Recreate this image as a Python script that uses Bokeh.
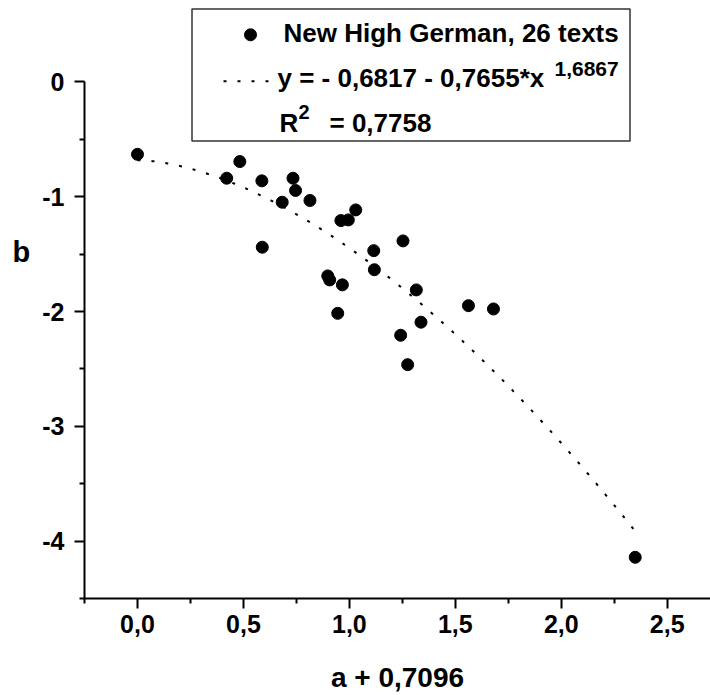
import numpy as np
from bokeh.plotting import figure
from bokeh.models import Range1d, FixedTicker, CustomJSTickFormatter, Label, BoxAnnotation
from bokeh.embed import file_html
from bokeh.resources import INLINE

# ---------------- data ----------------
series_name = "New High German, 26 texts"
x_vals = [0.000, 0.421, 0.483, 0.587, 0.734, 0.746, 0.683, 0.814, 0.589, 0.960, 0.995, 1.030,
          0.898, 0.907, 0.967, 0.945, 1.253, 1.115, 1.118, 1.316, 1.562, 1.680, 1.338, 1.242,
          1.275, 2.349]
y_vals = [-0.631, -0.839, -0.694, -0.862, -0.839, -0.946, -1.048, -1.033, -1.440, -1.208, -1.202, -1.115,
          -1.690, -1.725, -1.768, -2.016, -1.385, -1.470, -1.636, -1.812, -1.949, -1.978, -2.093, -2.207,
          -2.463, -4.141]
# fitted model shown in the legend: y = a + b * x^p
fit_a = -0.6817
fit_b = -0.7655
fit_p = 1.6867
r_squared = "0,7758"

x_ticks = [0.0, 0.5, 1.0, 1.5, 2.0, 2.5]
x_minor = [-0.25, 0.25, 0.75, 1.25, 1.75, 2.25, 2.75]
y_ticks = [0, -1, -2, -3, -4]
y_minor = [-0.5, -1.5, -2.5, -3.5, -4.5]
x_label = "a + 0,7096"
y_label = "b"

# ---------------- layout ----------------
W, H = 710, 695
LEFT, BOTTOM_BORDER = 84, 97
FRAME_W = W - LEFT
FRAME_H = H - BOTTOM_BORDER
X0 = -0.25
PPX = 211.9
Y0 = -4.5
PPY = 114.8
x_end = X0 + FRAME_W / PPX
y_end = Y0 + FRAME_H / PPY


def sx2x(px):
    return X0 + (px - LEFT) / PPX


def sy2y(py):
    return Y0 + (FRAME_H - py) / PPY


p = figure(width=W, height=H, x_range=Range1d(X0, x_end), y_range=Range1d(Y0, y_end),
           min_border_left=LEFT, min_border_right=0, min_border_top=0,
           min_border_bottom=BOTTOM_BORDER, output_backend="svg", toolbar_location=None)
p.outline_line_color = None
p.xgrid.visible = False
p.ygrid.visible = False
p.background_fill_color = "white"
p.border_fill_color = "white"

FONT = "Liberation Sans"

for ax in (p.xaxis[0], p.yaxis[0]):
    ax.axis_line_width = 2
    ax.axis_line_color = "black"
    ax.major_tick_line_width = 2
    ax.minor_tick_line_width = 2
    ax.major_tick_line_color = "black"
    ax.minor_tick_line_color = "black"
    ax.major_tick_in = 0
    ax.major_tick_out = 10
    ax.minor_tick_in = 0
    ax.minor_tick_out = 5
    ax.major_label_text_font = FONT
    ax.major_label_text_font_style = "bold"
    ax.major_label_text_font_size = "25px"
    ax.major_label_text_color = "black"
    ax.axis_label_text_font = FONT
    ax.axis_label_text_font_style = "bold"
    ax.axis_label_text_color = "black"

p.xaxis[0].ticker = FixedTicker(ticks=x_ticks, minor_ticks=x_minor)
p.xaxis[0].formatter = CustomJSTickFormatter(code="return tick.toFixed(1).replace('.', ',');")
p.xaxis[0].major_label_standoff = 6
p.xaxis[0].axis_label = x_label
p.xaxis[0].axis_label_text_font_size = "28px"
p.xaxis[0].axis_label_standoff = 26

p.yaxis[0].ticker = FixedTicker(ticks=y_ticks, minor_ticks=y_minor)
p.yaxis[0].formatter = CustomJSTickFormatter(code="return Math.round(tick).toString();")
p.yaxis[0].major_label_standoff = 10
p.yaxis[0].bounds = (min(y_minor), max(y_ticks))
# "b" sits above the middle of the axis in the reference: trailing empty lines lift it
p.yaxis[0].axis_label = y_label + "\n\n"
p.yaxis[0].axis_label_orientation = "horizontal"
p.yaxis[0].axis_label_text_font_size = "29px"
p.yaxis[0].axis_label_text_line_height = 1.5
p.yaxis[0].axis_label_standoff = 9

# ---------------- data marks ----------------
xs_fit = np.linspace(0.0, max(x_vals), 300)
ys_fit = fit_a + fit_b * xs_fit ** fit_p
p.line(xs_fit, ys_fit, line_color="black", line_width=2, line_dash="3 11")
p.scatter(x_vals, y_vals, size=12, fill_color="black", line_color="black", marker="circle")

# ---------------- legend ----------------
p.add_layout(BoxAnnotation(left=sx2x(191.5), right=sx2x(629.5), top=sy2y(8.5), bottom=sy2y(140.5),
                           fill_alpha=0, line_color="#333333", line_alpha=1, line_width=1.5))
p.scatter([sx2x(250)], [sy2y(34.3)], size=12, fill_color="black", line_color="black", marker="circle")
p.line([sx2x(223), sx2x(270)], [sy2y(80.7), sy2y(80.7)], line_color="black", line_width=2,
       line_dash="3 11")

BASE_FIX = 0.37  # measured shift of the rendered baseline, in em


def leg_text(txt, px, py, size=26):
    p.add_layout(Label(x=sx2x(px), y=sy2y(py - BASE_FIX * size), text=txt, text_font=FONT,
                       text_font_style="bold", text_font_size=f"{size}px", text_align="left",
                       text_baseline="alphabetic", text_color="black"))


eq_a = f"{fit_a:.4f}".replace("-", "").replace(".", ",")
eq_b = f"{fit_b:.4f}".replace("-", "").replace(".", ",")
eq_p = f"{fit_p:.4f}".replace(".", ",")

leg_text(series_name, 283, 42)
leg_text(f"y = - {eq_a} - {eq_b}*x", 277, 87)
leg_text(eq_p, 554, 76.7, 21)
leg_text("R", 279, 131.7)
leg_text("2", 298, 119.3, 20)
leg_text(f"= {r_squared}", 329, 131.7)

open("out.html", "w").write(file_html(p, INLINE))
